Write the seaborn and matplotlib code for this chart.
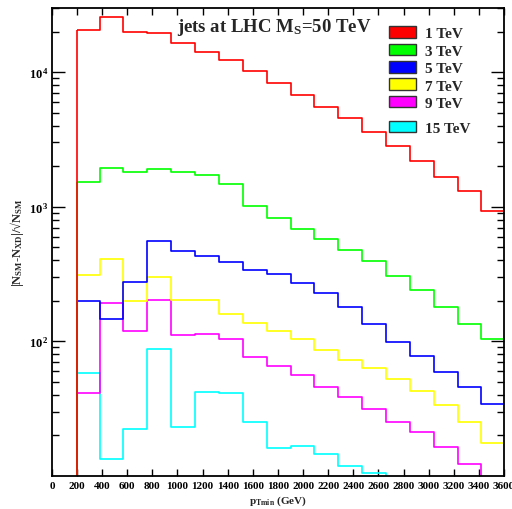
import numpy as np
import pandas as pd
import matplotlib
matplotlib.use('Agg')
import matplotlib.pyplot as plt
import seaborn as sns
from matplotlib.patches import Patch

# bin edges in GeV (pT min)
bin_edges = [200, 380, 570, 760, 950, 1140, 1330, 1520, 1710, 1900,
             2090, 2280, 2470, 2660, 2850, 3040, 3230, 3420, 3610]

masses = ['1 TeV', '3 TeV', '5 TeV', '7 TeV', '9 TeV', '15 TeV']
colors = ['#ff0000', '#00ff00', '#0000ff', '#ffff00', '#ff00ff', '#00ffff']

# |N_SM - N_XD| / sqrt(N_SM) per bin
n_1tev = [20500, 25600, 19800, 19700, 16500, 14070, 12270, 10120, 8340,
          6750, 5530, 4540, 3620, 2830, 2170, 1675, 1300, 925]
n_3tev = [1514, 1932, 1824, 1905, 1824, 1734, 1468, 1013, 822,
          681, 572, 473, 394, 307, 242, 181, 134, 103]
n_5tev = [198, 145, 277, 552, 466, 432, 385, 340, 314,
          272, 230, 181, 134, 98, 77.5, 59, 45.6, 34.3]
n_7tev = [309, 406, 198, 301, 204, 202, 158, 137, 119,
          103.5, 86, 73, 63.4, 52.3, 42.8, 33.6, 25.0, 17.6]
n_9tev = [41.3, 192, 119, 202, 111, 113, 104.5, 76, 65.3,
          56.2, 46, 38.6, 31.1, 24.9, 21.1, 16.3, 12.3, 7]
n_15tev = [58.5, 13.3, 22.1, 87.7, 23.2, 41.6, 41.1, 24.9, 16.0,
           16.5, 14.6, 11.8, 10.4, 8, 6, 5, 4, 3]

all_series = [n_1tev, n_3tev, n_5tev, n_7tev, n_9tev, n_15tev]

centers = [(a + b) / 2 for a, b in zip(bin_edges[:-1], bin_edges[1:])]
rows = []
for m, vals in zip(masses, all_series):
    for c, v in zip(centers, vals):
        rows.append((m, c, v))
df = pd.DataFrame(rows, columns=['mass', 'pt', 'n'])

sns.set_theme(style='ticks')
plt.rcParams['font.family'] = ['Liberation Serif', 'DejaVu Serif']
plt.rcParams['font.weight'] = 'bold'
plt.rcParams['mathtext.fontset'] = 'custom'
plt.rcParams['mathtext.rm'] = 'Liberation Serif:bold'
plt.rcParams['mathtext.it'] = 'Liberation Serif:bold'
plt.rcParams['mathtext.bf'] = 'Liberation Serif:bold'
plt.rcParams['mathtext.sf'] = 'Liberation Serif:bold'
plt.rcParams['axes.edgecolor'] = 'black'
plt.rcParams['xtick.color'] = 'black'
plt.rcParams['ytick.color'] = 'black'

fig = plt.figure(figsize=(5.12, 5.10), dpi=100)
ax = fig.add_axes([0.1014, 0.0653, 0.8830, 0.9171])

sns.histplot(data=df, x='pt', weights='n', hue='mass', hue_order=masses,
             bins=bin_edges, element='step', fill=True, facecolor='none',
             palette=colors, linewidth=1.2, legend=False, ax=ax)

ax.set_yscale('log')
ax.set_xlim(0, 3600)
ax.set_ylim(10, 30000)

ax.set_xticks(range(0, 3601, 200))
ax.set_xticklabels([str(v) for v in range(0, 3601, 200)], fontsize=8, fontweight='bold')
ax.set_yticks([100, 1000, 10000])
ax.set_yticklabels(['10$^{\\,2}$', '10$^{\\,3}$', '10$^{\\,4}$'], fontsize=9)
ax.tick_params(direction='in', top=True, right=True, width=1.0)
ax.tick_params(axis='x', which='major', length=5, pad=4)
ax.tick_params(axis='y', which='major', length=9.5, pad=2)
ax.tick_params(axis='y', which='minor', length=5, direction='in', left=True, right=True)
for s in ax.spines.values():
    s.set_linewidth(1.3)

ax.set_xlabel('p$_{Tmin}$ (GeV)', fontsize=8, fontweight='bold', labelpad=2)
ax.set_ylabel('|N$_{SM}$-N$_{XD}$|/\u221aN$_{SM}$', fontsize=9, fontweight='bold', labelpad=2)

ax.text(0.277, 0.950, 'jets at LHC M$_S$=50 TeV', transform=ax.transAxes,
        fontsize=13.5, fontweight='bold', ha='left', va='baseline')

handles = [Patch(facecolor=c, edgecolor='#333333', linewidth=1.0) for c in colors]
leg1 = ax.legend(handles[:5], masses[:5], loc='upper left', bbox_to_anchor=(0.7456, 0.961),
                 frameon=False, fontsize=11, handlelength=1.75, handleheight=0.78,
                 handletextpad=0.6, labelspacing=0.22, borderpad=0, borderaxespad=0)
ax.add_artist(leg1)
ax.legend(handles[5:], masses[5:], loc='upper left', bbox_to_anchor=(0.7456, 0.759),
          frameon=False, fontsize=11, handlelength=1.75, handleheight=0.78,
          handletextpad=0.6, borderpad=0, borderaxespad=0)

fig.savefig('out.png', dpi=100)
